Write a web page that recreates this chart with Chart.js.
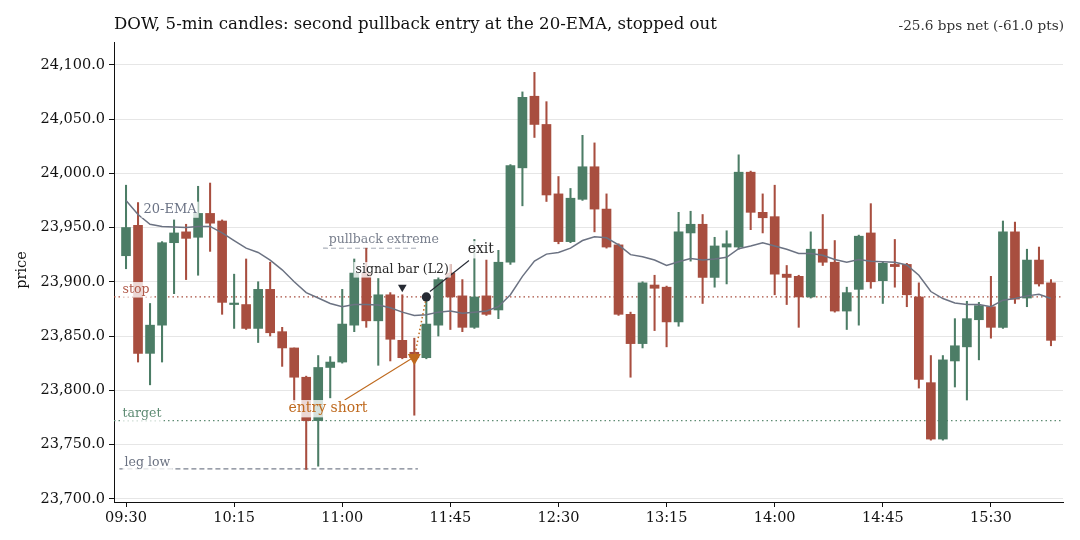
<!DOCTYPE html>
<html>
<head>
<meta charset="utf-8">
<script src="https://cdn.jsdelivr.net/npm/chart.js@4.4.1/dist/chart.umd.min.js"></script>
<style>
  html, body { margin: 0; padding: 0; background: #ffffff; }
  #wrap { width: 1080px; height: 540px; }
</style>
</head>
<body>
<div id="wrap"><canvas id="grafico" width="1080" height="540"></canvas></div>
<script>
// 5-min candles, 09:30 .. 15:55
const aberturas = [23924,23952,23834,23860,23936,23946,23941,23963,23956,23879,23879,23857,23893,23854,23839,23812,23772,23821,23826,23860,
  23908,23864,23888,23846,23835,23830,23860,23908,23887,23858,23887,23874,23918,24005,24071,24045,23981,23937,23976,24006,
  23967,23934,23870,23843,23897,23895,23863,23945,23953,23904,23932,23932,24001,23964,23960,23907,23905,23886,23930,23918,
  23873,23893,23945,23901,23916,23916,23886,23807,23755,23827,23840,23865,23877,23858,23946,23885,23920,23899];
const maximas = [23989,23973,23880,23937,23957,23953,23988,23991,23957,23907,23921,23900,23918,23858,23839,23813,23832,23831,23893,23921,
  23931,23903,23890,23888,23848,23887,23904,23916,23902,23939,23920,23929,24008,24075,24093,24066,23997,23986,24035,24028,
  23981,23935,23872,23900,23906,23896,23964,23965,23962,23941,23947,24017,24002,23981,23989,23915,23906,23946,23962,23938,
  23895,23943,23972,23918,23939,23917,23899,23832,23832,23866,23882,23881,23905,23956,23955,23930,23932,23902];
const minimas = [23912,23826,23805,23826,23889,23902,23906,23928,23870,23857,23856,23844,23850,23822,23789,23727,23730,23793,23825,23854,
  23858,23823,23827,23829,23777,23829,23850,23856,23854,23857,23869,23866,23916,23970,24033,23974,23935,23936,23975,23946,
  23931,23869,23812,23839,23855,23840,23859,23919,23880,23895,23898,23930,23948,23945,23888,23879,23858,23885,23915,23872,
  23856,23860,23894,23880,23895,23877,23802,23754,23754,23803,23791,23828,23848,23857,23880,23877,23896,23841];
const fechamentos = [23950,23834,23860,23936,23945,23940,23963,23954,23881,23880,23857,23893,23853,23839,23812,23772,23821,23826,23861,23908,
  23864,23888,23847,23830,23830,23861,23902,23886,23858,23886,23870,23918,24007,24070,24045,23980,23937,23977,24006,23967,
  23932,23870,23843,23899,23894,23863,23946,23953,23904,23933,23935,24001,23964,23959,23907,23904,23886,23930,23918,23873,
  23890,23942,23900,23917,23914,23888,23810,23755,23828,23841,23866,23878,23858,23946,23884,23920,23898,23846];
const ema20 = [23975,23962,23953,23951,23950.5,23950,23951,23951,23945,23938,23931,23927,23920,23911,23900,23890,23885,23880,23877,23879,
  23879,23878.5,23876,23872,23869,23869.5,23872,23873,23871,23872,23873,23877,23888,23905,23919,23925.5,23927,23931,23938,23941.5,
  23940.5,23934,23925,23923,23920,23915,23918.5,23921.5,23920,23921,23922.5,23930.5,23933,23936,23933,23930,23926,23926,23924.5,23920.5,
  23918,23920.5,23919,23918.5,23918,23915.5,23906,23891,23884.5,23880.5,23879,23879,23877,23883,23884.5,23887,23888.5,23884.5];

const rotulosX = ['09:30','10:15','11:00','11:45','12:30','13:15','14:00','14:45','15:30'];
const posicoesX = [0, 9, 18, 27, 36, 45, 54, 63, 72];
const ticksY = [23700, 23750, 23800, 23850, 23900, 23950, 24000, 24050, 24100];

// niveis do trade
const nivelStop = 23886;
const nivelAlvo = 23772;
const minimaPerna = 23727.5;
const extremoPullback = 23931;
const barraSinal = 23;
const precoSinal = 23895;
const barraEntrada = 24;
const precoEntrada = 23830;
const barraSaida = 25;
const precoSaida = 23886;

const VERDE = '#4c7d66';
const VERMELHO = '#a84e3f';
const CINZA_EMA = '#6b7282';
const LARANJA = '#bf6a1f';
const ESCURO = '#262a33';
const FONTE = '"DejaVu Serif", "Liberation Serif", serif';

const coresVela = aberturas.map((o, i) => fechamentos[i] >= o ? VERDE : VERMELHO);
const corpos = aberturas.map((o, i) => ({ x: i, y: [o, fechamentos[i]] }));
const pavios = maximas.map((h, i) => ({ x: i, y: [minimas[i], h] }));
const linhaEma = ema20.map((v, i) => ({ x: i, y: v }));

const linhaNivel = (x0, x1, y) => [{ x: x0, y: y }, { x: x1, y: y }];

// textos anotados (coordenadas em dados)
const anotacoes = [
  { texto: '20-EMA', x: 1.46, y: 23966.4, cor: '#6b7385', tam: 13 },
  { texto: 'stop', x: -0.29, y: 23892.6, cor: '#b05a4a', tam: 12.5 },
  { texto: 'target', x: -0.29, y: 23778.3, cor: '#5f8c74', tam: 12.5 },
  { texto: 'leg low', x: -0.12, y: 23733.2, cor: '#6b7282', tam: 12.5 },
  { texto: 'pullback extreme', x: 16.87, y: 23938.7, cor: '#7a808e', tam: 12.5 },
  { texto: 'signal bar (L2)', x: 19.11, y: 23911, cor: '#2a2a2a', tam: 12.5 },
  { texto: 'exit', x: 28.44, y: 23929.5, cor: '#2a2a2a', tam: 14 },
  { texto: 'entry short', x: 13.53, y: 23783, cor: LARANJA, tam: 14 }
];
const setas = [
  { de: [18.2, 23791], para: [23.75, 23829], cor: LARANJA },
  { de: [28.55, 23919.6], para: [25.3, 23891], cor: ESCURO }
];

const pluginTextos = {
    id: 'textos',
    afterDatasetsDraw(chart) {
        const c = chart.ctx;
        const sx = chart.scales.x, sy = chart.scales.y;
        c.save();
        setas.forEach(s => {
            c.strokeStyle = s.cor;
            c.lineWidth = 1.1;
            c.beginPath();
            c.moveTo(sx.getPixelForValue(s.de[0]), sy.getPixelForValue(s.de[1]));
            c.lineTo(sx.getPixelForValue(s.para[0]), sy.getPixelForValue(s.para[1]));
            c.stroke();
        });
        anotacoes.forEach(a => {
            c.font = a.tam + 'px ' + FONTE;
            const px = sx.getPixelForValue(a.x);
            const py = sy.getPixelForValue(a.y);
            const w = c.measureText(a.texto).width;
            c.fillStyle = 'rgba(255,255,255,0.78)';
            c.fillRect(px - 2, py - a.tam * 0.62, w + 4, a.tam * 1.24);
            c.fillStyle = a.cor;
            c.textAlign = 'left';
            c.textBaseline = 'middle';
            c.fillText(a.texto, px, py);
        });
        c.restore();
    },
    afterDraw(chart) {
        const c = chart.ctx;
        c.save();
        c.fillStyle = '#111111';
        c.font = '16.6px ' + FONTE;
        c.textAlign = 'left';
        c.textBaseline = 'middle';
        c.fillText('DOW, 5-min candles: second pullback entry at the 20-EMA, stopped out', 114, 25);
        c.fillStyle = '#333333';
        c.font = '13.6px ' + FONTE;
        c.textAlign = 'right';
        c.fillText('-25.6 bps net (-61.0 pts)', 1064, 26);
        c.translate(22, 270);
        c.rotate(-Math.PI / 2);
        c.fillStyle = '#111111';
        c.font = '14.5px ' + FONTE;
        c.textAlign = 'center';
        c.fillText('price', 0, 0);
        c.restore();
    }
};

const ctx = document.getElementById('grafico').getContext('2d');
const grafico = new Chart(ctx, {
    type: 'bar',
    data: {
        datasets: [
            {
                type: 'bar', label: 'corpos', data: corpos,
                backgroundColor: coresVela, borderWidth: 0,
                barThickness: 9, grouped: false, minBarLength: 1.5, order: 3
            },
            {
                type: 'bar', label: 'pavios', data: pavios,
                backgroundColor: coresVela, borderWidth: 0,
                barThickness: 1.4, grouped: false, order: 4
            },
            {
                type: 'line', label: 'EMA', data: linhaEma,
                borderColor: CINZA_EMA, borderWidth: 1.5, pointRadius: 0, tension: 0, order: 2
            },
            {
                type: 'line', label: 'stop', data: linhaNivel(-1, 78, nivelStop),
                borderColor: VERMELHO, borderWidth: 1.3, borderDash: [1.5, 3], pointRadius: 0, order: 10
            },
            {
                type: 'line', label: 'alvo', data: linhaNivel(-1, 78, nivelAlvo),
                borderColor: '#5f8c74', borderWidth: 1.3, borderDash: [1.5, 3], pointRadius: 0, order: 10
            },
            {
                type: 'line', label: 'leg low', data: linhaNivel(-0.55, 24.3, minimaPerna),
                borderColor: '#7a808e', borderWidth: 1.3, borderDash: [5, 3], pointRadius: 0, order: 10
            },
            {
                type: 'line', label: 'pullback', data: linhaNivel(16.4, 24.3, extremoPullback),
                borderColor: '#aab0ba', borderWidth: 1.1, borderDash: [5, 3], pointRadius: 0, order: 10
            },
            {
                type: 'line', label: 'entrada-saida',
                data: [{ x: barraEntrada, y: precoEntrada }, { x: barraSaida, y: precoSaida }],
                borderColor: LARANJA, borderWidth: 1.5, borderDash: [1.5, 2.5], pointRadius: 0, order: 1
            },
            {
                type: 'scatter', label: 'sinal', data: [{ x: barraSinal, y: precoSinal }],
                pointStyle: 'triangle', rotation: 180, pointRadius: 5,
                backgroundColor: ESCURO, borderColor: ESCURO, borderWidth: 0, order: 0
            },
            {
                type: 'scatter', label: 'entrada', data: [{ x: barraEntrada, y: precoEntrada }],
                pointStyle: 'triangle', rotation: 180, pointRadius: 7.5,
                backgroundColor: LARANJA, borderColor: LARANJA, borderWidth: 0, order: 0
            },
            {
                type: 'scatter', label: 'saida', data: [{ x: barraSaida, y: precoSaida }],
                pointStyle: 'circle', pointRadius: 4.6,
                backgroundColor: ESCURO, borderColor: ESCURO, borderWidth: 0, order: 0
            }
        ]
    },
    options: {
        responsive: false,
        animation: false,
        layout: { padding: { top: 42, right: 17, left: 0, bottom: 0 } },
        plugins: { legend: { display: false }, tooltip: { enabled: false }, title: { display: false } },
        scales: {
            x: {
                type: 'linear', min: -1, max: 78, offset: false,
                afterFit: (s) => { s.height = 38; },
                afterBuildTicks: (s) => { s.ticks = posicoesX.map(v => ({ value: v })); },
                ticks: {
                    autoSkip: false, maxRotation: 0, padding: 3,
                    color: '#111111', font: { family: FONTE, size: 14.5 },
                    callback: (v) => rotulosX[posicoesX.indexOf(v)] || ''
                },
                grid: { offset: false, drawOnChartArea: false, drawTicks: true, tickLength: 5, tickColor: '#111111' },
                border: { color: '#111111', width: 1 }
            },
            y: {
                type: 'linear', min: 23697, max: 24121,
                afterFit: (s) => { s.width = 114; },
                afterBuildTicks: (s) => { s.ticks = ticksY.map(v => ({ value: v })); },
                ticks: {
                    padding: 4, color: '#111111', font: { family: FONTE, size: 14.5 },
                    callback: (v) => v.toLocaleString('en-US', { minimumFractionDigits: 1, maximumFractionDigits: 1 })
                },
                grid: { color: '#e6e6e6', lineWidth: 1, tickLength: 5, tickColor: '#111111' },
                border: { color: '#111111', width: 1 }
            }
        }
    },
    plugins: [pluginTextos]
});
</script>
</body>
</html>
